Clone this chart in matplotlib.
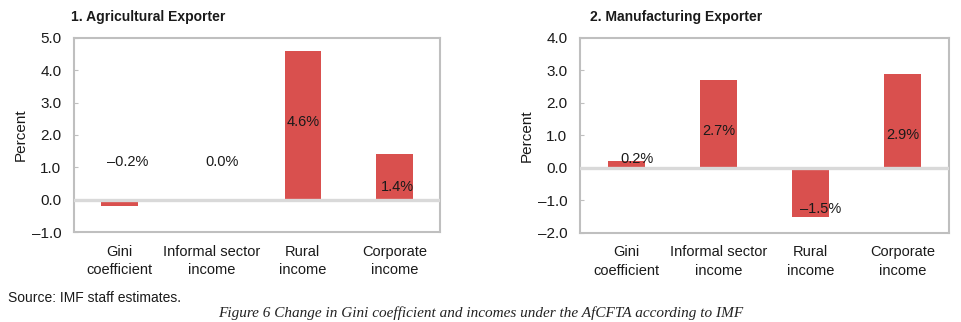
import matplotlib.pyplot as plt
from matplotlib.ticker import FuncFormatter

categories = ["Gini\ncoefficient", "Informal sector\nincome", "Rural\nincome", "Corporate\nincome"]
agri_values = [-0.2, 0.0, 4.6, 1.4]
manu_values = [0.2, 2.7, -1.5, 2.9]

# where Excel dropped the data labels (value units)
agri_label_y = [1.15, 1.15, 2.4, 0.38]
agri_label_dx = [0.09, 0.12, 0.0, 0.03]
manu_label_y = [0.28, 1.14, -1.26, 1.02]
manu_label_dx = [0.12, 0.01, 0.11, 0.0]

BAR = "#d9504e"
SPINE = "#bfbfbf"
TXT = "#1a1a1a"
plt.rcParams['font.family'] = ['Liberation Sans', 'DejaVu Sans']

fig = plt.figure(figsize=(9.61, 3.22), dpi=100)


def dash(v, pos):
    return ("%.1f" % v).replace("-", "\u2013")


def panel(rect, values, label_y, label_dx, ylim, title, title_x):
    ax = fig.add_axes(rect)
    x = list(range(len(values)))
    ax.bar(x, values, width=0.4, color=BAR, zorder=2)
    ax.axhline(0, color="#d9d9d9", lw=2.4, zorder=3)
    for i, v in enumerate(values):
        ax.text(i + label_dx[i], label_y[i], ("%.1f%%" % v).replace("-", "\u2013"),
                ha="center", va="center", fontsize=10.5, color=TXT, zorder=4)
    ax.set_xlim(-0.5, len(values) - 0.5)
    ax.set_ylim(*ylim)
    ax.set_yticks(list(range(int(ylim[0]), int(ylim[1]) + 1)))
    ax.yaxis.set_major_formatter(FuncFormatter(dash))
    ax.set_xticks(x)
    ax.set_xticklabels(categories, fontsize=10.5, color=TXT, linespacing=1.45)
    ax.tick_params(axis="x", length=0, pad=9)
    ax.tick_params(axis="y", direction="in", length=3, color=SPINE, labelsize=11, pad=9,
                   labelcolor=TXT)
    for s in ax.spines.values():
        s.set_color(SPINE)
        s.set_linewidth(1.5)
    ax.set_ylabel("Percent", fontsize=11, color=TXT, labelpad=3)
    fig.text(title_x, 1 - 17 / 322, title, fontsize=10, fontweight="bold",
             color=TXT, ha="left", va="center")
    return ax


panel([0.077, 0.2795, 0.381, 0.6025], agri_values, agri_label_y, agri_label_dx,
      (-1, 5), "1. Agricultural Exporter", 71 / 961)
panel([0.6035, 0.2764, 0.384, 0.6056], manu_values, manu_label_y, manu_label_dx,
      (-2, 4), "2. Manufacturing Exporter", 590 / 961)

fig.text(0.008, 1 - 298 / 322, "Source: IMF staff estimates.", fontsize=10,
         color=TXT, ha="left", va="center")
fig.text(0.5, 2 / 322,
         "Figure 6 Change in Gini coefficient and incomes under the AfCFTA according to IMF",
         family="Liberation Serif", style="italic", fontsize=11, color="#222222",
         ha="center", va="bottom")

plt.savefig("out.png", dpi=100)
